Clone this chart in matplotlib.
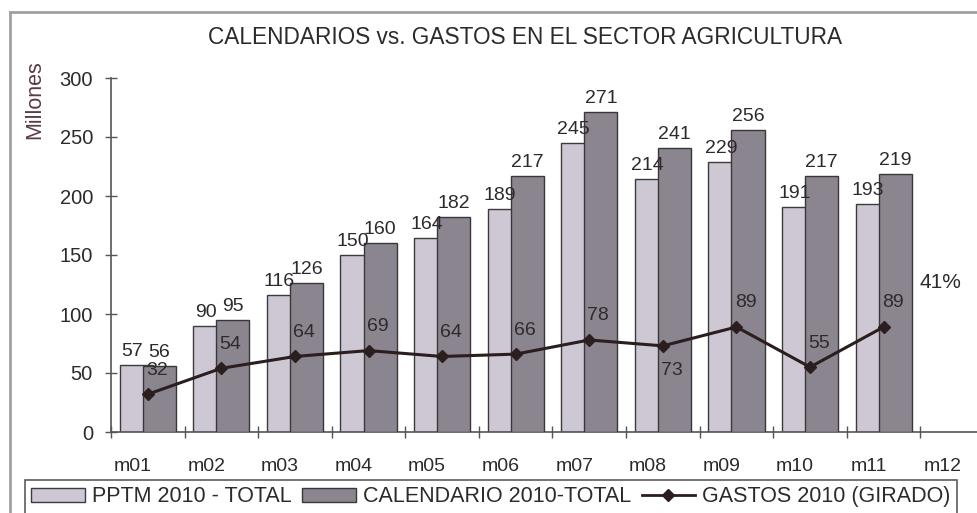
import matplotlib
matplotlib.use("Agg")
import matplotlib.pyplot as plt
import matplotlib.transforms as mtransforms
from matplotlib.lines import Line2D
import numpy as np

categories = ["m01", "m02", "m03", "m04", "m05", "m06", "m07", "m08", "m09", "m10", "m11", "m12"]
pptm = [57, 90, 116, 150, 164, 189, 245, 214, 229, 191, 193]
calendario = [56, 95, 126, 160, 182, 217, 271, 241, 256, 217, 219]
gastos = [32, 54, 64, 69, 64, 66, 78, 73, 89, 55, 89]
gastos_below = [False, False, False, False, False, False, False, True, False, False, False]
yticks = [0, 50, 100, 150, 200, 250, 300]
pct_text = "41%"
title = "CALENDARIOS vs. GASTOS EN EL SECTOR AGRICULTURA"
legend_labels = ["PPTM 2010 - TOTAL", "CALENDARIO 2010-TOTAL", "GASTOS 2010 (GIRADO)"]

FONT = ["Liberation Sans", "DejaVu Sans"]
plt.rcParams["font.family"] = FONT
TXT = "#2e2a2c"

W, H = 977, 513
fig = plt.figure(figsize=(W / 100, H / 100), dpi=100)
ax = fig.add_axes([111 / W, (H - 432) / H, 883 / W, 354 / H])

n = len(pptm)
x = np.arange(n)
bw = 0.45
off = 0.157
ax.bar(x - off, pptm, width=bw, color="#cdc8d3", edgecolor="#3d3a3e", linewidth=1.0, zorder=2)
ax.bar(x + off, calendario, width=bw, color="#8b858f", edgecolor="#3a373b", linewidth=1.0, zorder=3)
ax.plot(x, gastos, color="#2a1e1f", linewidth=2.2, marker="D", markersize=6.5,
        markerfacecolor="#2a1e1f", markeredgecolor="#2a1e1f", zorder=5)

for i in range(n):
    ax.annotate(str(pptm[i]), (x[i] - off, pptm[i]), xytext=(-4, 5), textcoords="offset pixels",
                ha="center", va="bottom", fontsize=14, color=TXT, zorder=6)
    ax.annotate(str(calendario[i]), (x[i] + off, calendario[i]), xytext=(0, 5), textcoords="offset pixels",
                ha="center", va="bottom", fontsize=14, color=TXT, zorder=6)
    dy = -25 if gastos_below[i] else 24
    ax.annotate(str(gastos[i]), (x[i], gastos[i]), xytext=(9, dy), textcoords="offset pixels",
                ha="center", va="center", fontsize=14, color=TXT, zorder=6)

ax.set_xlim(-0.5, len(categories) - 0.5)
ax.set_ylim(0, 300)
ax.set_yticks(yticks)
ax.set_yticklabels([str(v) for v in yticks], fontsize=14.5, color=TXT)
ax.set_xticks(np.arange(len(categories)))
ax.set_xticklabels(categories, fontsize=14, color=TXT)
ax.set_xticks(np.arange(len(categories) + 1) - 0.5, minor=True)
ax.tick_params(axis="x", which="major", length=0, pad=19)
ax.tick_params(axis="x", which="minor", length=8, direction="inout", color="#555555", width=1)
ax.tick_params(axis="y", length=8, direction="inout", color="#555555", width=1, pad=9)
shift = mtransforms.ScaledTranslation(-15 / 100, 0, fig.dpi_scale_trans)
for lab in ax.get_xticklabels():
    lab.set_transform(lab.get_transform() + shift)

for s in ["top", "right"]:
    ax.spines[s].set_visible(False)
ax.spines["left"].set_color("#555555")
ax.spines["bottom"].set_color("#555555")
ax.spines["left"].set_linewidth(1.2)
ax.spines["bottom"].set_linewidth(1.2)
ax.set_facecolor("none")

fig.text(525 / W, 1 - 37 / H, title, ha="center", va="center", fontsize=16.3, color=TXT)
fig.text(35 / W, 1 - 100 / H, "Millones", rotation=90, ha="center", va="center", fontsize=15.5, color="#5a3a44")
fig.text(940 / W, 1 - 283 / H, pct_text, ha="center", va="center", fontsize=15, color=TXT)

# outer frame lines
fig.add_artist(Line2D([10 / W, 10 / W], [0, 1 - 12 / H], transform=fig.transFigure, color="#a0a0a0", linewidth=2))
fig.add_artist(Line2D([10 / W, 1], [1 - 12 / H, 1 - 12 / H], transform=fig.transFigure, color="#a0a0a0", linewidth=2))

handles = [
    plt.Rectangle((0, 0), 1, 1, facecolor="#cdc8d3", edgecolor="#3d3a3e"),
    plt.Rectangle((0, 0), 1, 1, facecolor="#8b858f", edgecolor="#3a373b"),
    Line2D([0], [0], color="#2a1e1f", linewidth=2, marker="D", markersize=6),
]
leg = fig.legend(handles, legend_labels, loc="upper left", bbox_to_anchor=(25 / W, 1 - 480 / H),
                 ncol=3, fontsize=15.5, frameon=True, fancybox=False, handlelength=2.5, handleheight=0.6,
                 handletextpad=0.3, columnspacing=0.5, borderpad=0.3, borderaxespad=0)
leg.get_frame().set_edgecolor("#333333")
leg.get_frame().set_linewidth(1.2)
for t in leg.get_texts():
    t.set_color(TXT)

fig.savefig("out.png", dpi=100)
